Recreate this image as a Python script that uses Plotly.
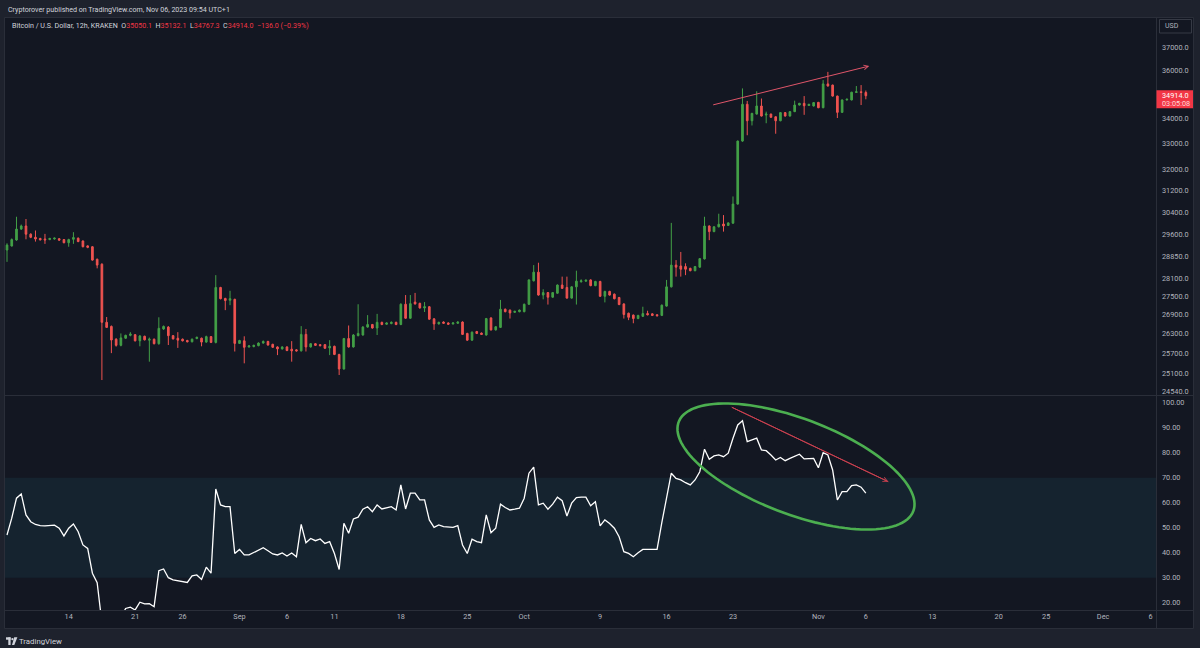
import math
import numpy as np
import pandas as pd
import plotly.graph_objects as go

# ---------------- data (12h candles, Kraken BTC/USD) ----------------
FIRST_CANDLE = "2023-08-07 12:00"
CANDLE_FREQ = "12h"

opens = [29056, 29195, 29405, 29790, 29900, 29610, 29500, 29460, 29440, 29420,
         29440, 29450, 29420, 29310, 29430, 29470, 29370, 29200, 29170, 28740,
         28570, 26660, 26530, 26130, 25940, 26160, 26250, 26270, 26080, 26220,
         26100, 26130, 25990, 26450, 26510, 26240, 26160, 26130, 26090, 26050,
         26150, 26160, 26040, 26210, 26030, 27790, 27430, 27370, 27400, 26000,
         26080, 25890, 25900, 25930, 26010, 26060, 25970, 25890, 25830, 25890,
         25820, 25800, 25770, 26280, 25890, 25990, 25960, 25960, 25860, 25910,
         25660, 25220, 26150, 25890, 26240, 26260, 26510, 26590, 26480, 26660,
         26600, 26620, 26660, 26590, 27240, 26790, 27310, 27270, 27120, 27160,
         26770, 26610, 26670, 26640, 26610, 26630, 26670, 26310, 26100, 26370,
         26320, 26260, 26800, 26420, 26500, 27080, 27050, 26980, 27000, 27000,
         27240, 28010, 28300, 27540, 27620, 27470, 27600, 27870, 27790, 27440,
         27810, 27980, 28000, 28040, 27850, 27990, 27500, 27660, 27570, 27460,
         27250, 26950, 26890, 26780, 26850, 26940, 26930, 26900, 26880, 27180,
         27810, 28540, 28510, 28490, 28430, 28350, 28470, 28750, 29900, 29700,
         29870, 29970, 29920, 30000, 30690, 33080, 34560, 33890, 34160, 34490,
         34120, 34160, 34050, 33890, 34220, 34080, 34260, 34530, 34600, 34510,
         34490, 34640, 34420, 35410, 35360, 34900, 34230, 34740, 34740, 35050,
         35080, 35050.1]
highs = [29290, 29460, 30230, 29950, 30150, 29640, 29740, 29480, 29620, 29480,
         29490, 29470, 29440, 29450, 29680, 29490, 29390, 29220, 29190, 28760,
         28600, 26830, 26560, 26160, 26310, 26270, 26350, 26290, 26260, 26240,
         26180, 26150, 26820, 26560, 26540, 26260, 26350, 26150, 26110, 26150,
         26210, 26180, 26240, 26230, 28200, 27810, 27450, 27680, 27420, 26110,
         26220, 25950, 25960, 26030, 26090, 26080, 25990, 25910, 25910, 25910,
         26070, 25820, 26540, 26450, 26010, 26010, 25980, 25980, 26100, 25930,
         25680, 26170, 26560, 26290, 27240, 26540, 26890, 26610, 26930, 26680,
         26660, 26690, 26680, 27270, 27540, 27540, 27610, 27290, 27310, 27180,
         26790, 26680, 26690, 26660, 26660, 26690, 26690, 26330, 26370, 26390,
         26340, 26800, 26820, 26540, 27380, 27100, 27070, 27030, 27070, 27260,
         28060, 28540, 28620, 27730, 27640, 27640, 27890, 28150, 28150, 27830,
         28350, 28060, 28050, 28060, 28010, 28010, 27680, 27680, 27590, 27480,
         27270, 26970, 26910, 26900, 27160, 27030, 26950, 26920, 27230, 28040,
         30010, 28710, 28990, 28600, 28450, 28510, 28780, 30230, 29920, 29890,
         30340, 30290, 30030, 30970, 33100, 35220, 34700, 34210, 35100, 34800,
         34260, 34180, 34070, 34240, 34240, 34280, 34710, 34620, 34900, 34580,
         34650, 34660, 35570, 35920, 35380, 34920, 34760, 34790, 35080, 35320,
         35360, 35132.1]
lows = [28650, 29180, 29380, 29760, 29430, 29470, 29350, 29390, 29270, 29400,
        29420, 29380, 29290, 29170, 29270, 29330, 29150, 29120, 28690, 28430,
        24890, 26480, 25700, 25900, 25910, 26140, 26220, 26060, 25910, 26090,
        25440, 25970, 25960, 26420, 25950, 26120, 25860, 26060, 26030, 26030,
        26130, 25910, 26020, 26010, 26000, 27400, 27050, 27210, 25750, 25980,
        25390, 25870, 25880, 25910, 25990, 25930, 25860, 25640, 25810, 25760,
        25440, 25750, 25750, 25750, 25870, 25920, 25910, 25830, 25640, 25640,
        25040, 25200, 25870, 25870, 26220, 26240, 26490, 26460, 26260, 26570,
        26580, 26600, 26570, 26570, 26770, 26770, 27230, 27100, 26990, 26740,
        26420, 26590, 26610, 26580, 26590, 26610, 26260, 26080, 26080, 26290,
        26260, 26240, 26400, 26400, 26480, 26980, 26780, 26960, 26980, 26980,
        27220, 27990, 27520, 27400, 27230, 27450, 27580, 27740, 27420, 27420,
        27230, 27950, 27980, 27830, 27830, 27480, 27300, 27520, 27400, 27210,
        26780, 26730, 26630, 26760, 26830, 26880, 26860, 26850, 26860, 27160,
        27790, 28150, 28150, 28200, 28330, 28330, 28450, 28730, 29400, 29680,
        29850, 29700, 29900, 29980, 30670, 33050, 33310, 33700, 34140, 34060,
        33790, 34010, 33370, 33870, 34060, 34060, 34240, 34510, 34130, 34490,
        34470, 34400, 34400, 35300, 34880, 34000, 34210, 34720, 34720, 35030,
        34530, 34767.3]
closes = [29229, 29420, 29790, 29900, 29610, 29500, 29440, 29410, 29410, 29460,
          29470, 29400, 29310, 29420, 29490, 29350, 29170, 29150, 28710, 28540,
          26660, 26500, 26105, 25940, 26170, 26250, 26290, 26080, 26230, 26110,
          26130, 25990, 26470, 26530, 26240, 26140, 26100, 26080, 26050, 26130,
          26190, 26040, 26210, 26030, 27790, 27420, 27360, 27420, 26000, 26090,
          25880, 25920, 25940, 26010, 26060, 25950, 25880, 25830, 25890, 25780,
          25770, 25770, 26280, 25890, 25990, 25940, 25930, 25850, 25910, 25660,
          25220, 26150, 25890, 26260, 26310, 26510, 26590, 26480, 26660, 26590,
          26640, 26660, 26590, 27240, 26790, 27260, 27250, 27120, 27160, 26760,
          26610, 26660, 26630, 26600, 26640, 26670, 26280, 26100, 26350, 26310,
          26280, 26780, 26420, 26520, 27080, 27000, 26960, 27010, 27050, 27240,
          28040, 28300, 27540, 27620, 27470, 27620, 27870, 27760, 27440, 27810,
          28000, 28010, 28030, 27850, 27990, 27500, 27660, 27540, 27420, 27230,
          26910, 26820, 26780, 26880, 26940, 26900, 26880, 26870, 27210, 27810,
          28540, 28470, 28400, 28400, 28350, 28490, 28760, 29900, 29700, 29870,
          29960, 29900, 30010, 30690, 33080, 34560, 33890, 34190, 34490, 34080,
          34160, 34030, 33890, 34220, 34080, 34260, 34530, 34600, 34500, 34560,
          34630, 34420, 35410, 35320, 34900, 34230, 34740, 34770, 35060, 35080,
          35050, 34914.0]

# RSI(14)
rsi = [47.1, 53.8, 61.8, 63.5, 55.1, 52.4, 51.3, 50.8, 50.7, 50.7,
       51.0, 49.8, 46.7, 49.8, 51.5, 48.4, 43.1, 41.7, 31.8, 28.0,
       12.0, 10.5, 8.5, 7.5, 14.0, 17.7, 18.2, 17.1, 20.2, 19.5,
       19.6, 18.4, 32.8, 33.5, 30.0, 29.1, 28.7, 28.4, 28.1, 30.7,
       31.1, 29.3, 34.2, 31.8, 65.5, 59.1, 58.4, 58.4, 39.7, 41.3,
       39.1, 39.1, 40.0, 41.1, 42.0, 40.8, 39.5, 39.1, 39.9, 38.7,
       39.9, 38.4, 51.3, 44.0, 45.7, 44.8, 45.5, 43.7, 44.4, 39.7,
       33.3, 51.8, 47.8, 53.5, 54.2, 57.4, 58.4, 56.4, 59.1, 57.5,
       57.8, 58.4, 57.1, 67.1, 57.5, 63.8, 63.8, 61.1, 61.1, 53.1,
       50.1, 51.1, 50.4, 50.1, 50.1, 50.8, 43.1, 39.7, 45.4, 44.4,
       44.0, 55.1, 48.0, 49.8, 59.4, 58.1, 57.1, 57.4, 57.8, 61.8,
       71.8, 74.2, 59.1, 59.8, 57.4, 59.4, 62.2, 60.8, 54.7, 59.8,
       62.0, 62.2, 62.2, 58.8, 60.4, 50.7, 53.1, 51.7, 49.8, 46.4,
       40.4, 39.7, 38.4, 40.0, 41.3, 41.3, 41.3, 41.3, 52.0, 62.0,
       71.8, 69.7, 69.1, 68.0, 67.1, 69.1, 72.4, 81.4, 77.4, 78.7,
       79.1, 78.4, 79.8, 85.8, 91.1, 92.8, 84.4, 85.1, 85.8, 81.1,
       80.8, 79.1, 77.1, 78.1, 76.8, 77.7, 78.7, 79.4, 77.5, 77.5,
       77.7, 74.0, 80.0, 79.1, 73.1, 61.1, 64.4, 64.4, 66.8, 67.1,
       66.2, 63.8]

price_ticks = [37000, 36000, 34000, 33000, 32000, 31200, 30400, 29600, 28850,
               28100, 27500, 26900, 26300, 25700, 25100, 24540]
rsi_ticks = [100, 90, 80, 70, 60, 50, 40, 30, 20]
date_ticks = ["2023-08-14", "2023-08-21", "2023-08-26", "2023-09-01", "2023-09-06",
              "2023-09-11", "2023-09-18", "2023-09-25", "2023-10-01", "2023-10-09",
              "2023-10-16", "2023-10-23", "2023-11-01", "2023-11-06", "2023-11-13",
              "2023-11-20", "2023-11-25", "2023-12-01", "2023-12-06"]
date_labels = ["14", "21", "26", "Sep", "6", "11", "18", "25", "Oct", "9", "16", "23",
               "Nov", "6", "13", "20", "25", "Dec", "6"]

x_range = ["2023-08-07 06:56", "2023-12-06 13:48"]
price_range = [24450.6, 38299.7]
rsi_range = [17.08, 102.68]
rsi_band = [30, 70]
price_trend = {"x": ["2023-10-20 20:40", "2023-11-06 08:40"], "y": [34533, 36172]}
rsi_trend = {"x": ["2023-10-22 20:40", "2023-11-08 08:50"], "y": [98.2, 68.4]}
countdown = "03:05:08"

# ---------------- style ----------------
W, H = 1200, 648
ML, MR, MT, MB = 5, 44, 18, 38
PW, PH = W - ML - MR, H - MT - MB
FRAME_BG = "#1e222d"
CHART_BG = "#131722"
BORDER = "#2a2e39"
UP = "#43a047"
DOWN = "#ef5350"
TXT = "#b2b5be"
FONT = "Roboto"
FS = 7.3
FS_HEAD = 7.1


def px(x):
    return (x - ML) / PW


def py(y):
    return (H - MB - y) / PH


times = pd.date_range(FIRST_CANDLE, periods=len(closes), freq=CANDLE_FREQ)

fig = go.Figure()
fig.add_trace(go.Candlestick(
    x=times, open=opens, high=highs, low=lows, close=closes,
    increasing=dict(line=dict(color=UP, width=1), fillcolor=UP),
    decreasing=dict(line=dict(color=DOWN, width=1), fillcolor=DOWN),
    whiskerwidth=0, xaxis="x", yaxis="y", hoverinfo="skip", showlegend=False))
fig.add_trace(go.Scatter(
    x=times, y=rsi, mode="lines", line=dict(color="#ffffff", width=1.3),
    xaxis="x2", yaxis="y2", hoverinfo="skip", showlegend=False))

price_dom = [py(395), 1]
rsi_dom = [0, py(396)]
lo, hi = math.log10(price_range[0]), math.log10(price_range[1])


def price_paper(p):
    return price_dom[0] + (math.log10(p) - lo) / (hi - lo) * (price_dom[1] - price_dom[0])


fig.update_layout(
    width=W, height=H,
    margin=dict(l=ML, r=MR, t=MT, b=MB),
    paper_bgcolor=FRAME_BG, plot_bgcolor=CHART_BG,
    showlegend=False, hovermode=False, boxgap=0.5,
    font=dict(family=FONT, size=FS, color=TXT),
    xaxis=dict(domain=[0, 1], anchor="y", type="date", range=x_range,
               showticklabels=False, showgrid=False, zeroline=False,
               rangeslider=dict(visible=False), showline=False, ticks=""),
    yaxis=dict(domain=price_dom, anchor="x", type="log", range=[lo, hi],
               side="right", tickvals=price_ticks,
               ticktext=[f"{v:.1f}" for v in price_ticks],
               showgrid=False, zeroline=False, ticks="", ticklabelstandoff=5,
               tickfont=dict(size=FS, color=TXT), automargin=False),
    xaxis2=dict(domain=[0, 1], anchor="y2", type="date", range=x_range,
                tickvals=date_ticks, ticktext=date_labels, showgrid=False,
                zeroline=False, ticks="", ticklabelstandoff=1,
                tickfont=dict(size=FS, color=TXT), automargin=False),
    yaxis2=dict(domain=rsi_dom, anchor="x2", range=rsi_range, side="right",
                tickvals=rsi_ticks, ticktext=[f"{v:.2f}" for v in rsi_ticks],
                showgrid=False, zeroline=False, ticks="", ticklabelstandoff=5,
                tickfont=dict(size=FS, color=TXT), automargin=False),
)

shapes = []
# chart frame
shapes.append(dict(type="rect", xref="paper", yref="paper", x0=px(4.5), x1=px(1193.5),
                   y0=py(628.5), y1=py(17.5), line=dict(color=BORDER, width=1),
                   fillcolor=CHART_BG, layer="below"))
# separators
for yy in (395.5, 610.5):
    shapes.append(dict(type="line", xref="paper", yref="paper", x0=px(4.5), x1=px(1193.5),
                       y0=py(yy), y1=py(yy), line=dict(color=BORDER, width=1)))
shapes.append(dict(type="line", xref="paper", yref="paper", x0=px(1156.5), x1=px(1156.5),
                   y0=py(628.5), y1=py(17.5), line=dict(color=BORDER, width=1)))
# RSI band
shapes.append(dict(type="rect", xref="x2 domain", yref="y2", x0=0, x1=1,
                   y0=rsi_band[0], y1=rsi_band[1], fillcolor="#15232f",
                   line=dict(width=0), layer="below"))
# trend lines (drawn through the axes)
shapes.append(dict(type="line", xref="x", yref="y",
                   x0=price_trend["x"][0], y0=math.log10(price_trend["y"][0]),
                   x1=price_trend["x"][1], y1=math.log10(price_trend["y"][1]),
                   line=dict(color="#e0566a", width=1)))
shapes.append(dict(type="line", xref="x2", yref="y2",
                   x0=rsi_trend["x"][0], y0=rsi_trend["y"][0],
                   x1=rsi_trend["x"][1], y1=rsi_trend["y"][1],
                   line=dict(color="#c8404f", width=1)))
# last price label box (positioned from the last close through the log scale)
pp = price_paper(closes[-1])
shapes.append(dict(type="rect", xref="paper", yref="paper", x0=px(1156.5), x1=px(1193),
                   y0=pp - 12.5 / PH, y1=pp + 5.5 / PH, fillcolor="#f23645",
                   line=dict(width=0)))
# USD box
shapes.append(dict(type="rect", xref="paper", yref="paper", x0=px(1159.5), x1=px(1191.5),
                   y0=py(33), y1=py(19.5), fillcolor=CHART_BG,
                   line=dict(color="#363a45", width=1)))
# green ellipse (hand drawn annotation)
cx, cy, a, b, th = 796, 466.5, 125.5, 47.7, math.radians(20.8)
t = np.linspace(0, 2 * np.pi, 120)
ex = cx + a * np.cos(th) * np.cos(t) - b * np.sin(th) * np.sin(t)
ey = cy + a * np.sin(th) * np.cos(t) + b * np.cos(th) * np.sin(t)
path = "M " + " L ".join(f"{px(u):.5f},{py(v):.5f}" for u, v in zip(ex, ey)) + " Z"
shapes.append(dict(type="path", xref="paper", yref="paper", path=path,
                   line=dict(color="#4caf50", width=2.6)))
# TradingView logo (bottom left)
LOGO = "#d1d4dc"
shapes.append(dict(type="rect", xref="paper", yref="paper", x0=px(6), x1=px(10.6),
                   y0=py(639.7), y1=py(637.3), fillcolor=LOGO, line=dict(width=0)))
shapes.append(dict(type="rect", xref="paper", yref="paper", x0=px(8.3), x1=px(10.6),
                   y0=py(645), y1=py(637.3), fillcolor=LOGO, line=dict(width=0)))
shapes.append(dict(type="circle", xref="paper", yref="paper", x0=px(11.3), x1=px(13.5),
                   y0=py(640.3), y1=py(638.1), fillcolor=LOGO, line=dict(width=0)))
shapes.append(dict(type="path", xref="paper", yref="paper",
                   path=f"M {px(14.2)},{py(637.3)} L {px(17.4)},{py(637.3)} L {px(14.3)},{py(645)} L {px(12.0)},{py(645)} Z",
                   fillcolor=LOGO, line=dict(width=0)))
fig.update_layout(shapes=shapes)

ann = []
ann.append(dict(xref="paper", yref="paper", x=px(6), y=py(9), xanchor="left", yanchor="middle",
                text="Cryptorover published on TradingView.com, Nov 06, 2023 09:54 UTC+1",
                showarrow=False, font=dict(size=FS_HEAD, color="#d1d4dc")))
chg = closes[-1] - closes[-2]
pct = chg / closes[-2] * 100
R = "#f23645"
legend_txt = (
    "Bitcoin / U.S. Dollar, 12h, KRAKEN&nbsp;&nbsp;"
    f"O<span style='color:{R}'>{opens[-1]:.1f}</span>&nbsp;&nbsp;"
    f"H<span style='color:{R}'>{highs[-1]:.1f}</span>&nbsp;&nbsp;"
    f"L<span style='color:{R}'>{lows[-1]:.1f}</span>&nbsp;&nbsp;"
    f"C<span style='color:{R}'>{closes[-1]:.1f}&nbsp;&nbsp;{chg:.1f}&nbsp;({pct:.2f}%)</span>"
).replace("-", "\u2212")
ann.append(dict(xref="paper", yref="paper", x=px(10), y=py(25.5), xanchor="left",
                yanchor="middle", text=legend_txt, showarrow=False,
                font=dict(size=FS_HEAD, color="#d1d4dc")))
ann.append(dict(xref="paper", yref="paper", x=px(1163), y=py(26), xanchor="left",
                yanchor="middle", text="USD", showarrow=False, font=dict(size=FS - 0.3, color=TXT)))
ann.append(dict(xref="paper", yref="paper", x=px(1160), y=pp, xanchor="left",
                yanchor="middle", text=f"{closes[-1]:.1f}", showarrow=False,
                font=dict(size=FS, color="#ffffff")))
ann.append(dict(xref="paper", yref="paper", x=px(1160), y=pp - 8 / PH, xanchor="left",
                yanchor="middle", text=countdown, showarrow=False,
                font=dict(size=FS, color="#ffd9d9")))
ann.append(dict(xref="paper", yref="paper", x=px(17), y=py(641.3), xanchor="left",
                yanchor="middle", text="TradingView", showarrow=False,
                font=dict(size=7.8, color=LOGO)))
# arrowheads at the ends of the trend lines
ann.append(dict(xref="x", yref="y", axref="x", ayref="y",
                x=price_trend["x"][1], y=math.log10(price_trend["y"][1]),
                ax=price_trend["x"][0], ay=math.log10(price_trend["y"][0]),
                text="", showarrow=True, arrowhead=5, arrowsize=0.9, arrowwidth=1,
                arrowcolor="#e0566a", font=dict(size=1), borderpad=0))
ann.append(dict(xref="x2", yref="y2", axref="x2", ayref="y2",
                x=rsi_trend["x"][1], y=rsi_trend["y"][1],
                ax=rsi_trend["x"][0], ay=rsi_trend["y"][0],
                text="", showarrow=True, arrowhead=5, arrowsize=0.9, arrowwidth=1,
                arrowcolor="#c8404f", font=dict(size=1), borderpad=0))
fig.update_layout(annotations=ann)

fig.write_html("out.html")
